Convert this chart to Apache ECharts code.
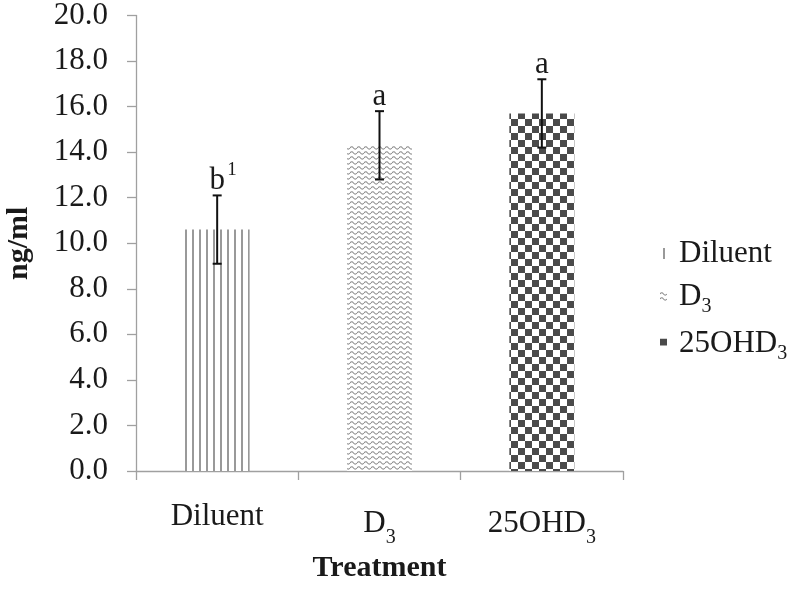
<!DOCTYPE html>
<html>
<head>
<meta charset="utf-8">
<script src="https://cdn.jsdelivr.net/npm/echarts@6/dist/echarts.min.js"></script>
<style>
html,body{margin:0;padding:0;background:#fff;}
#chart{width:791px;height:589px;}
</style>
</head>
<body>
<div id="chart"></div>
<script>
// ---- data ----
const categories = ['Diluent', 'D3', '25OHD3'];
const catMain = ['Diluent', 'D', '25OHD'];
const catSub = ['', '3', '3'];
const means = [10.6, 14.3, 15.7];
const errors = [1.5, 1.5, 1.5];
const letters = ['b', 'a', 'a'];
const superscripts = ['1', '', ''];
const yMin = 0, yMax = 20, yInterval = 2;

const FONT = 'Liberation Serif';

// ---- patterns ----
function makeCanvas(w, h, draw) {
  const c = document.createElement('canvas');
  c.width = w; c.height = h;
  const ctx = c.getContext('2d');
  ctx.fillStyle = '#fff';
  ctx.fillRect(0, 0, w, h);
  draw(ctx);
  return c;
}
const vlines = makeCanvas(7, 8, ctx => {
  ctx.fillStyle = '#999';
  ctx.fillRect(3, 0, 2, 8);
});
const waves = makeCanvas(7, 5, ctx => {
  ctx.strokeStyle = '#8a8a8a';
  ctx.lineWidth = 1.1;
  ctx.beginPath();
  ctx.moveTo(0, 3);
  ctx.quadraticCurveTo(1.75, 0.5, 3.5, 3);
  ctx.quadraticCurveTo(5.25, 5.2, 7, 3);
  ctx.stroke();
});
const checker = makeCanvas(14, 14, ctx => {
  ctx.fillStyle = '#4a4a4a';
  ctx.fillRect(0, 0, 7, 7);
  ctx.fillRect(7, 7, 7, 7);
});
const patterns = [vlines, waves, checker];

function richName(i) {
  return catSub[i] ? '{n|' + catMain[i] + '}{s|' + catSub[i] + '}' : '{m|' + catMain[i] + '}';
}
const subStyle = { fontFamily: FONT, fontSize: 20, color: '#1a1a1a', verticalAlign: 'bottom' };
const axisRich = {
  m: { fontFamily: FONT, fontSize: 31, color: '#1a1a1a', lineHeight: 34 },
  n: { fontFamily: FONT, fontSize: 31, color: '#1a1a1a', lineHeight: 48 },
  s: subStyle
};
const legendRich = {
  m: { fontFamily: FONT, fontSize: 31, color: '#1a1a1a', lineHeight: 40 },
  n: { fontFamily: FONT, fontSize: 31, color: '#1a1a1a', lineHeight: 40 },
  s: subStyle
};

const barSeries = categories.map((c, i) => ({
  type: 'bar',
  name: c,
  barWidth: '40%',
  barGap: '-100%',
  data: means.map((v, j) => (j === i ? v : '-')),
  itemStyle: { color: { image: patterns[i], repeat: 'repeat' } },
  silent: true
}));

const errSeries = {
  type: 'custom',
  name: 'err',
  z: 10,
  clip: false,
  data: means.map((v, i) => [i, v, errors[i]]),
  renderItem: function (params, api) {
    const i = api.value(0);
    const m = api.value(1);
    const e = api.value(2);
    const top = api.coord([i, m + e]);
    const bot = api.coord([i, m - e]);
    const x = top[0];
    const cap = 4.5;
    const st = { stroke: '#111', lineWidth: 2 };
    const children = [
      { type: 'line', shape: { x1: x, y1: top[1], x2: x, y2: bot[1] }, style: st },
      { type: 'line', shape: { x1: x - cap, y1: top[1], x2: x + cap, y2: top[1] }, style: st },
      { type: 'line', shape: { x1: x - cap, y1: bot[1], x2: x + cap, y2: bot[1] }, style: st },
      { type: 'text', style: { text: letters[i], x: x, y: top[1] + 1, align: 'center', verticalAlign: 'bottom', fontFamily: FONT, fontSize: 31, fill: '#1a1a1a' } }
    ];
    if (superscripts[i]) {
      children.push({ type: 'text', style: { text: superscripts[i], x: x + 10, y: top[1] - 16, align: 'left', verticalAlign: 'bottom', fontFamily: FONT, fontSize: 19, fill: '#1a1a1a' } });
    }
    return { type: 'group', children: children };
  }
};

const chart = echarts.init(document.getElementById('chart'));
chart.setOption({
  animation: false,
  backgroundColor: '#fff',
  grid: { left: 136, right: 168, top: 15.5, bottom: 118, outerBoundsMode: 'none', containLabel: false },
  legend: {
    orient: 'vertical',
    left: 655,
    top: 233,
    icon: 'rect',
    itemWidth: 7,
    itemHeight: 11,
    itemGap: 12,
    data: categories,
    formatter: function (name) { return richName(categories.indexOf(name)); },
    textStyle: { rich: legendRich, padding: [0, 0, 0, 7] },
    selectedMode: false
  },
  xAxis: {
    type: 'category',
    data: categories,
    name: 'Treatment',
    nameLocation: 'middle',
    nameGap: 82,
    nameTextStyle: { fontFamily: FONT, fontSize: 30, fontWeight: 'bold', color: '#1a1a1a' },
    axisLine: { lineStyle: { color: '#a0a0a0', width: 1.3 } },
    axisTick: { show: true, length: 9, interval: 0, lineStyle: { color: '#a0a0a0', width: 1.3 } },
    axisLabel: {
      margin: 29,
      interval: 0,
      formatter: function (v, idx) { return richName(idx); },
      rich: axisRich
    },
    splitLine: { show: false }
  },
  yAxis: {
    type: 'value',
    min: yMin,
    max: yMax,
    interval: yInterval,
    name: 'ng/ml',
    nameLocation: 'middle',
    nameGap: 102,
    nameRotate: 90,
    nameTextStyle: { fontFamily: FONT, fontSize: 30, fontWeight: 'bold', color: '#1a1a1a' },
    axisLine: { show: true, lineStyle: { color: '#a0a0a0', width: 1.3 } },
    axisTick: { show: true, length: 9, lineStyle: { color: '#a0a0a0', width: 1.3 } },
    axisLabel: {
      margin: 28,
      fontFamily: FONT,
      fontSize: 31,
      color: '#1a1a1a',
      formatter: function (v) { return v.toFixed(1); }
    },
    splitLine: { show: false }
  },
  series: barSeries.concat([errSeries])
});
</script>
</body>
</html>
